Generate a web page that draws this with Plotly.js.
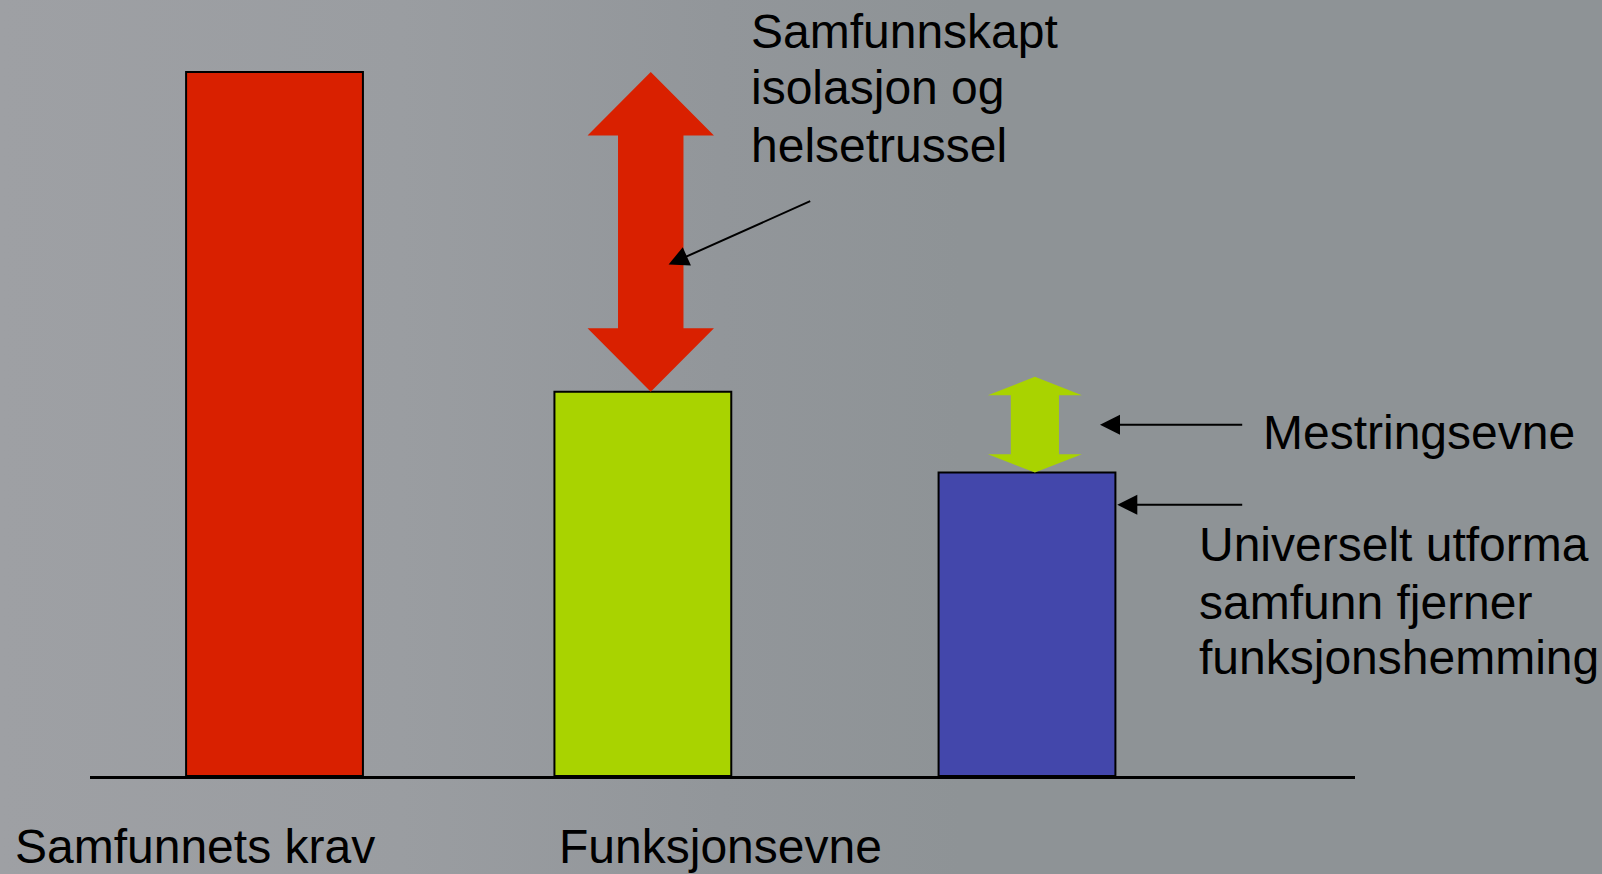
<!DOCTYPE html>
<html>
<head>
<meta charset="utf-8">
<script src="https://cdn.plot.ly/plotly-3.0.1.min.js"></script>
<style>
  html, body { margin: 0; padding: 0; }
  body {
    width: 1602px; height: 874px; overflow: hidden;
    background: linear-gradient(90deg, #9ea0a4 0%, #9a9da1 25%, #92969a 45%, #8e9396 60%, #8e9396 100%);
  }
  #chart { width: 1602px; height: 874px; }
</style>
</head>
<body>
<div id="chart"></div>
<script>
// ---- data ----
const categories = ["Samfunnets krav", "Funksjonsevne", "Universelt utforma samfunn"];
const values = [10, 5.46, 4.31];          // bar heights
const mestringTop = 5.67;                 // top of the "Mestringsevne" arrow
const barColors = ["#d92000", "#a9d300", "#4347ab"];
const labelTop = ["Samfunnskapt", "isolasjon og", "helsetrussel"];
const labelMestring = ["Mestringsevne"];
const labelUniversal = ["Universelt utforma", "samfunn fjerner", "funksjonshemming"];
const labelBottom = ["Samfunnets krav", "Funksjonsevne"];

// ---- layout helpers (pixel geometry -> paper fractions) ----
const W = 1602, H = 874;
const M = { l: 90, r: 247, t: 65, b: 98 };
const PW = W - M.l - M.r, PH = H - M.t - M.b;
const xp = px => (px - M.l) / PW;
const yp = py => (H - M.b - py) / PH;
const FONT = "Liberation Sans, Arial, Helvetica, sans-serif";

const idx = categories.map((c, i) => i);

function doubleArrow(xc, yLow, yHigh, headHalf, shaftHalf, headLen) {
  return "M" + xc + "," + yHigh +
    " L" + (xc + headHalf) + "," + (yHigh - headLen) +
    " L" + (xc + shaftHalf) + "," + (yHigh - headLen) +
    " L" + (xc + shaftHalf) + "," + (yLow + headLen) +
    " L" + (xc + headHalf) + "," + (yLow + headLen) +
    " L" + xc + "," + yLow +
    " L" + (xc - headHalf) + "," + (yLow + headLen) +
    " L" + (xc - shaftHalf) + "," + (yLow + headLen) +
    " L" + (xc - shaftHalf) + "," + (yHigh - headLen) +
    " L" + (xc - headHalf) + "," + (yHigh - headLen) + " Z";
}

const trace = {
  type: "bar",
  x: idx,
  y: values,
  text: categories,
  hoverinfo: "text+y",
  textposition: "none",
  width: 0.47,
  offset: [-0.235, -0.256, -0.235],
  marker: { color: barColors, line: { color: "#000", width: 2 } },
  cliponaxis: false
};

const shapes = [
  { type: "path", xref: "x", yref: "y", layer: "above",
    path: doubleArrow(idx[1], values[1], values[0], 0.168, 0.087, 0.9),
    fillcolor: barColors[0], line: { width: 0 } },
  { type: "path", xref: "x", yref: "y", layer: "above",
    path: doubleArrow(idx[2] + 0.021, values[2], mestringTop, 0.125, 0.064, 0.26),
    fillcolor: barColors[1], line: { width: 0 } }
];

const textFont = { family: FONT, size: 48, color: "#000" };
const annotations = [];
function addLines(lines, pxLeft, centers, font) {
  lines.forEach((t, i) => annotations.push({
    xref: "paper", yref: "paper", x: xp(pxLeft), y: yp(centers[i]),
    xanchor: "left", yanchor: "middle", text: t, showarrow: false,
    font: font || textFont, align: "left"
  }));
}
addLines(labelTop, 749, [31, 88, 145]);
addLines(labelMestring, 1261, [432]);
addLines(labelUniversal, 1197, [544, 602, 657]);
addLines([labelBottom[0]], 13, [846]);
addLines([labelBottom[1]], 557, [846]);

// pointer arrows
const arrowCommon = { xref: "x", yref: "y", axref: "x", ayref: "y", text: "",
  showarrow: true, arrowhead: 2, arrowsize: 2, arrowwidth: 2, arrowcolor: "#000", standoff: 0 };
annotations.push(Object.assign({}, arrowCommon, { x: 1.0474, y: 7.266, ax: 1.4278, ay: 8.175 }));
annotations.push(Object.assign({}, arrowCommon, { x: 2.194, y: 4.989, ax: 2.576, ay: 4.989 }));
annotations.push(Object.assign({}, arrowCommon, { x: 2.240, y: 3.852, ax: 2.576, ay: 3.852 }));

const layout = {
  width: W, height: H,
  margin: M,
  paper_bgcolor: "rgba(0,0,0,0)",
  plot_bgcolor: "rgba(0,0,0,0)",
  showlegend: false,
  xaxis: { range: [-0.4904, 2.8718], showline: true, linecolor: "#000", linewidth: 3,
           showgrid: false, zeroline: false, showticklabels: false, ticks: "", fixedrange: true },
  yaxis: { range: [0, 10.1], visible: false, fixedrange: true },
  shapes: shapes,
  annotations: annotations
};

Plotly.newPlot("chart", [trace], layout, { displayModeBar: false, staticPlot: true });
</script>
</body>
</html>
